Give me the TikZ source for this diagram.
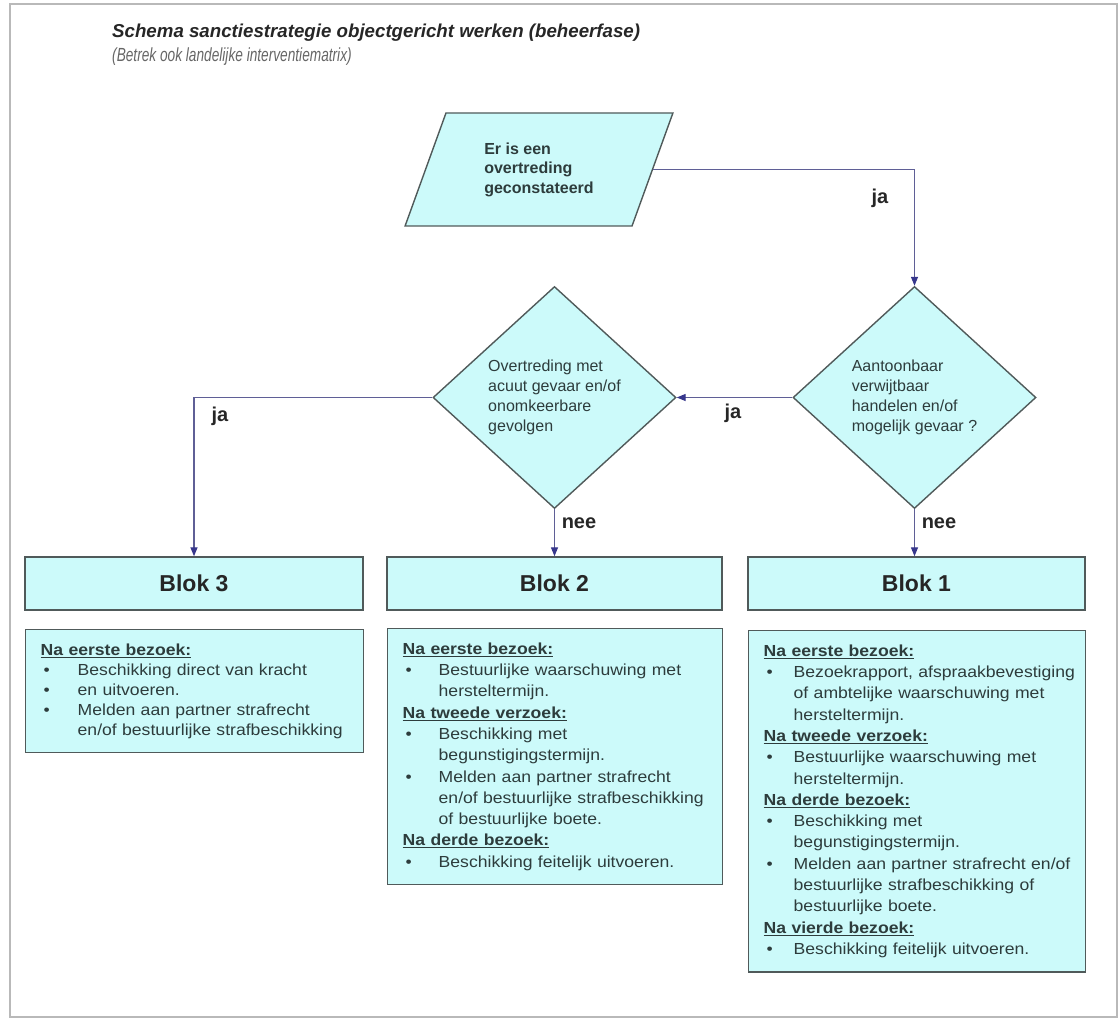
\documentclass[tikz,border=0pt]{standalone}
\usepackage{fontspec}
\setmainfont{Liberation Sans}
\newfontfamily\vakfont[FakeStretch=1.1]{Liberation Sans}
\newfontfamily\smalfont[FakeStretch=0.72]{Liberation Sans}
\usetikzlibrary{arrows.meta,shapes.geometric,positioning}

\definecolor{vakvulling}{RGB}{204,250,250}
\definecolor{vakrand}{RGB}{80,90,90}
\definecolor{tekstgrijs}{RGB}{45,60,60}
\definecolor{lijnblauw}{RGB}{95,95,150}
\definecolor{pijlblauw}{RGB}{55,55,140}
\definecolor{kaderrand}{RGB}{185,185,185}

\newlength{\insprong}
\newcommand{\kop}[1]{\hspace*{7pt}\underline{\textbf{#1}}}
\newcommand{\punt}{\makebox[\insprong][l]{\hspace*{10pt}\textbullet}}
\newcommand{\verder}{\hspace*{\insprong}}

\tikzset{
  vak/.style={draw=vakrand, line width=1.4pt, fill=vakvulling},
  vraag/.style={vak, diamond, aspect=1.1, minimum width=243pt, minimum height=222pt,
    inner sep=0pt, align=left, text=tekstgrijs, font=\fontsize{16}{20}\selectfont},
  blokkop/.style={vak, rectangle, minimum width=338pt, minimum height=53pt, inner sep=0pt,
    font=\bfseries\fontsize{23}{26}\selectfont, text=black!85},
  inhoud/.style={vak, rectangle, anchor=north west, inner xsep=8pt, inner ysep=14pt,
    align=left, text=tekstgrijs, font=\vakfont\fontsize{16}{21.3}\selectfont},
  verbinding/.style={draw=lijnblauw, line width=1.3pt, -{Triangle[length=9pt,width=7pt,color=pijlblauw]}},
  antwoord/.style={font=\bfseries\fontsize{20}{22}\selectfont, text=black!85, inner sep=0pt}
}

\begin{document}
\begin{tikzpicture}[x=1pt, y=-1pt]
  \useasboundingbox (0,0) rectangle (1120,1019);
  \draw[kaderrand, line width=1.5pt] (10,4) rectangle (1117,1017);

  \node[anchor=west, inner sep=0pt, font=\bfseries\itshape\fontsize{18.7}{20}\selectfont, text=black!85] (titel) at (112,33)
    {Schema sanctiestrategie objectgericht werken (beheerfase)};
  \node[anchor=west, inner sep=0pt, font=\smalfont\itshape\fontsize{19}{20}\selectfont, text=black!60] (subtitel) at (112,57)
    {(Betrek ook landelijke interventiematrix)};

  \node[vak, trapezium, trapezium left angle=66, trapezium right angle=114, trapezium stretches=true,
    minimum width=268pt, minimum height=113pt, inner sep=0pt, align=left, text=tekstgrijs,
    font=\bfseries\fontsize{16}{19.5}\selectfont] (melding) at (539,169.5)
    {Er is een\\overtreding\\geconstateerd};

  \node[vraag] (vraag1) at (914.5,397.5) {Aantoonbaar\\verwijtbaar\\handelen en/of\\mogelijk gevaar ?};
  \node[vraag] (vraag2) at (554.5,397.5) {Overtreding met\\acuut gevaar en/of\\onomkeerbare\\gevolgen};

  \node[blokkop] (blok3) at (194,583.5) {Blok 3};
  \node[blokkop, minimum width=335pt] (blok2) at (554.5,583.5) {Blok 2};
  \node[blokkop, minimum width=337pt] (blok1) at (916.5,583.5) {Blok 1};

  \node[inhoud, text width=322pt, font=\vakfont\fontsize{16}{20}\selectfont] (inhoud3) at (25,629)
    {\setlength{\insprong}{44pt}%
     \kop{Na eerste bezoek:}\\
     \punt Beschikking direct van kracht\\
     \punt en uitvoeren.\\
     \punt Melden aan partner strafrecht\\
     \verder en/of bestuurlijke strafbeschikking};
  \node[inhoud, text width=319pt] (inhoud2) at (387,628)
    {\setlength{\insprong}{43pt}%
     \kop{Na eerste bezoek:}\\
     \punt Bestuurlijke waarschuwing met\\
     \verder hersteltermijn.\\
     \kop{Na tweede verzoek:}\\
     \punt Beschikking met\\
     \verder begunstigingstermijn.\\
     \punt Melden aan partner strafrecht\\
     \verder en/of bestuurlijke strafbeschikking\\
     \verder of bestuurlijke boete.\\
     \kop{Na derde bezoek:}\\
     \punt Beschikking feitelijk uitvoeren.};
  \node[inhoud, text width=321pt] (inhoud1) at (748,630)
    {\setlength{\insprong}{37pt}%
     \kop{Na eerste bezoek:}\\
     \punt Bezoekrapport, afspraakbevestiging\\
     \verder of ambtelijke waarschuwing met\\
     \verder hersteltermijn.\\
     \kop{Na tweede verzoek:}\\
     \punt Bestuurlijke waarschuwing met\\
     \verder hersteltermijn.\\
     \kop{Na derde bezoek:}\\
     \punt Beschikking met\\
     \verder begunstigingstermijn.\\
     \punt Melden aan partner strafrecht en/of\\
     \verder bestuurlijke strafbeschikking of\\
     \verder bestuurlijke boete.\\
     \kop{Na vierde bezoek:}\\
     \punt Beschikking feitelijk uitvoeren.};

  \draw[verbinding] (melding.east) -| (vraag1.north);
  \draw[verbinding] (vraag1.west) -- (vraag2.east);
  \draw[verbinding] (vraag2.west) -| (blok3.north);
  \draw[verbinding] (vraag2.south) -- (blok2.north);
  \draw[verbinding] (vraag1.south) -- (vraag1.south |- blok1.north);

  \node[antwoord] (ja1) at (880,198) {ja};
  \node[antwoord] (ja2) at (733,413) {ja};
  \node[antwoord] (ja3) at (220,416) {ja};
  \node[antwoord] (nee2) at (579,523) {nee};
  \node[antwoord] (nee1) at (939,523) {nee};
\end{tikzpicture}
\end{document}
